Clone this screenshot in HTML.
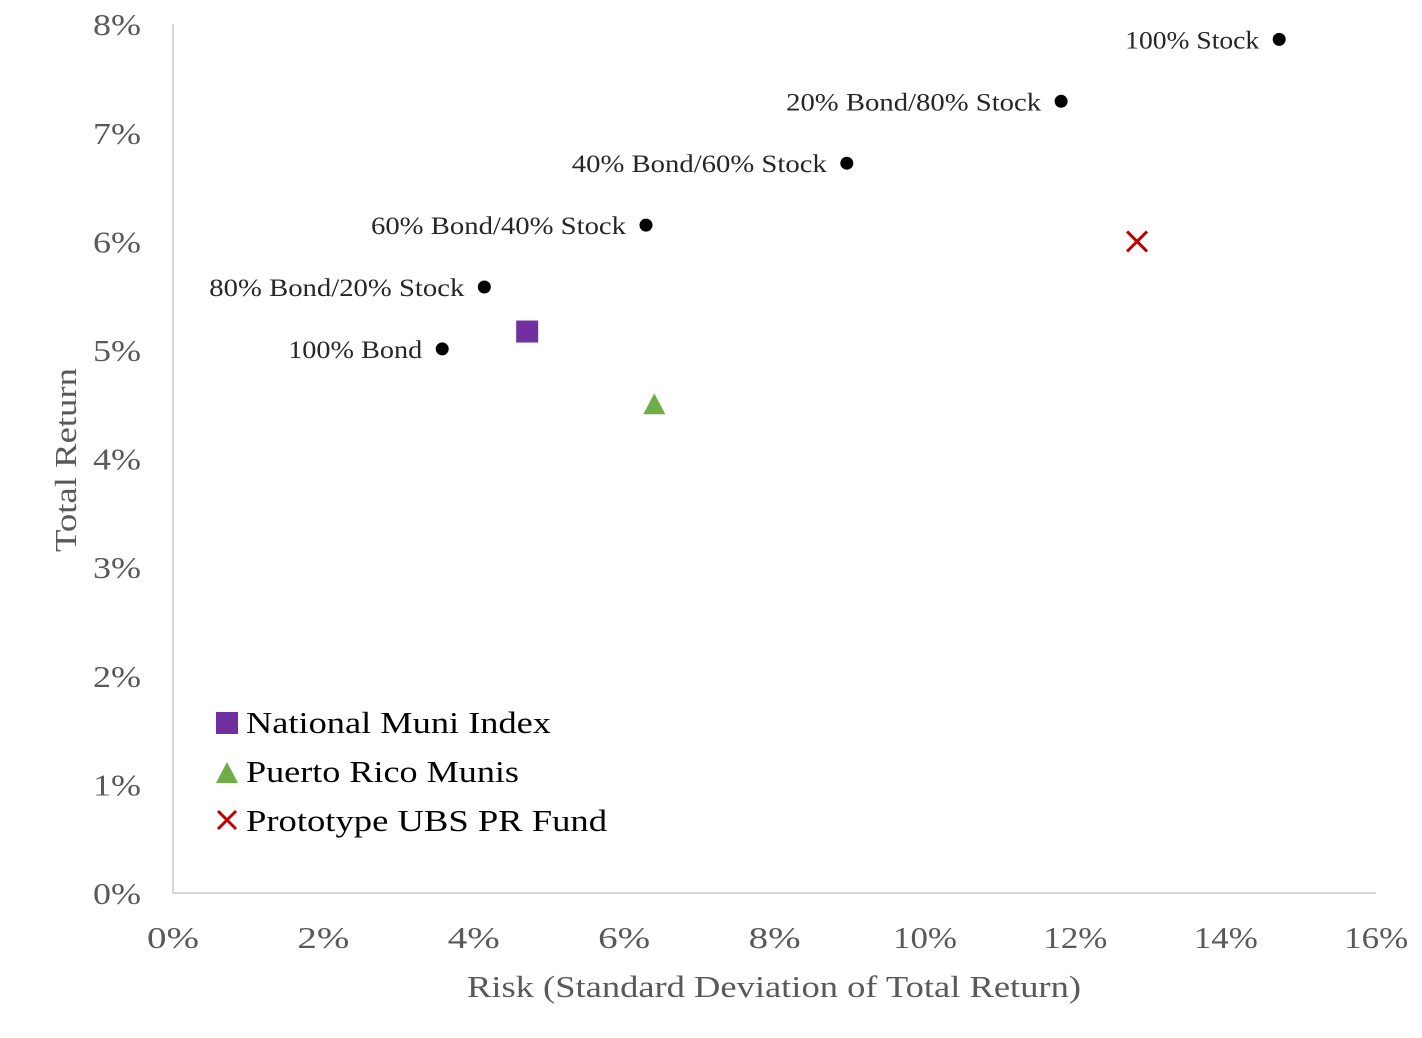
<!DOCTYPE html>
<html><head><meta charset="utf-8"><style>
body{margin:0;background:#fff}
svg text{font-family:"Liberation Serif",serif}
</style></head><body>
<svg width="1422" height="1033" xmlns="http://www.w3.org/2000/svg">
<g id="axes"></g><g id="marks"></g>
<g>
 <rect x="216" y="712" width="22" height="22" fill="#7030a0"/>
 <text x="246" y="733" font-size="31" fill="#000" textLength="305" lengthAdjust="spacingAndGlyphs">National Muni Index</text>
 <polygon points="216,783 238,783 227,762" fill="#70ad47"/>
 <text x="246" y="782" font-size="31" fill="#000" textLength="273" lengthAdjust="spacingAndGlyphs">Puerto Rico Munis</text>
 <path d="M218,811 L236,829 M236,811 L218,829" stroke="#c00000" stroke-width="3"/>
 <text x="246" y="831" font-size="31" fill="#000" textLength="361" lengthAdjust="spacingAndGlyphs">Prototype UBS PR Fund</text>
</g>
<text x="467" y="997" font-size="31" fill="#595959" textLength="614" lengthAdjust="spacingAndGlyphs">Risk (Standard Deviation of Total Return)</text>
<text transform="translate(76,552) rotate(-90)" font-size="31" fill="#595959" textLength="184" lengthAdjust="spacingAndGlyphs">Total Return</text>
<script>
const xTicks=[0,2,4,6,8,10,12,14,16];
const yTicks=[0,1,2,3,4,5,6,7,8];
const portLabels=["100% Bond","80% Bond/20% Stock","60% Bond/40% Stock","40% Bond/60% Stock","20% Bond/80% Stock","100% Stock"];
const portRisk=[3.58,4.14,6.29,8.96,11.81,14.71];
const portReturn=[5.01,5.58,6.15,6.72,7.29,7.86];
const muniRisk=[4.71], muniReturn=[5.17];
const prRisk=[6.40], prReturn=[4.50];
const ubsRisk=[12.82], ubsReturn=[6.00];
const NS="http://www.w3.org/2000/svg";
const X=v=>173+v*75.2, Y=v=>893-v*108.6;
function mk(tag,attrs,parent,txt){const e=document.createElementNS(NS,tag);for(const k in attrs)e.setAttribute(k,attrs[k]);if(txt!==undefined)e.textContent=txt;parent.appendChild(e);return e;}
const ax=document.getElementById('axes'), mg=document.getElementById('marks');
let l=mk('line',{x1:173,y1:24,x2:173,y2:893,stroke:'#bfbfbf','stroke-width':1.3},ax);


l=mk('line',{x1:173,y1:893,x2:1376,y2:893,stroke:'#bfbfbf','stroke-width':1.3},ax);


xTicks.forEach(t=>{const e=mk('text',{x:X(t),y:948,'font-size':31,fill:'#595959','text-anchor':'middle',textLength:(t>=10?64:52),lengthAdjust:'spacingAndGlyphs'},ax,t+'%');

});
yTicks.forEach(t=>{const e=mk('text',{x:93,y:Y(t)+11,'font-size':31,fill:'#595959',textLength:48,lengthAdjust:'spacingAndGlyphs'},ax,t+'%');

});
portRisk.forEach((r,i)=>{const c=mk('circle',{cx:X(r),cy:Y(portReturn[i]),r:6.5,fill:'#000'},mg);


const w=portLabels[i].length>12?255:134;
const t=mk('text',{x:X(r)-20-w,y:Y(portReturn[i])+9,'font-size':25,fill:'#262626',textLength:w,lengthAdjust:'spacingAndGlyphs'},mg,portLabels[i]);

});
muniRisk.forEach((r,i)=>{const s=mk('rect',{x:X(r)-11,y:Y(muniReturn[i])-11,width:22,height:22,fill:'#7030a0'},mg);

});
prRisk.forEach((r,i)=>{const x=X(r),y=Y(prReturn[i]);const p=mk('polygon',{points:`${x-11},${y+10} ${x+11},${y+10} ${x},${y-11}`,fill:'#70ad47'},mg);

});
ubsRisk.forEach((r,i)=>{const x=X(r),y=Y(ubsReturn[i]);const p=mk('path',{d:`M${x-10},${y-10} L${x+10},${y+10} M${x+10},${y-10} L${x-10},${y+10}`,stroke:'#c00000','stroke-width':3},mg);

});
</script>
</svg>
</body></html>
